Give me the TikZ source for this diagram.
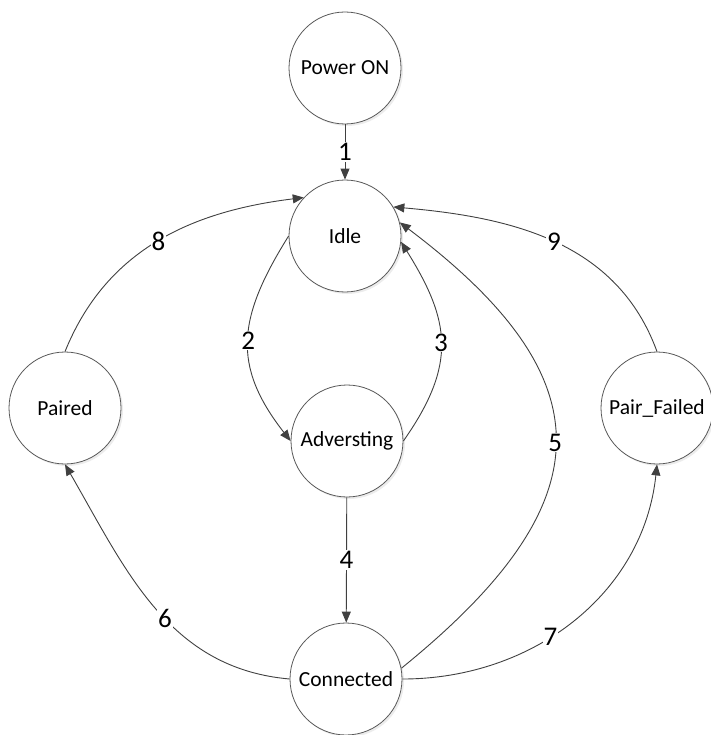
\documentclass[tikz,border=0pt]{standalone}
\usepackage{fontspec}
\setmainfont{Carlito}
\usetikzlibrary{arrows.meta,shadows}
\begin{document}
\begin{tikzpicture}[x=1pt,y=-1pt,
	state/.style={circle,draw=black!65,line width=0.8pt,fill=white,minimum size=112pt,inner sep=0pt,
		font=\fontsize{21.5}{26}\selectfont,drop shadow={opacity=0.15,shadow xshift=2pt,shadow yshift=-2pt}},
	trans/.style={draw=black!75,line width=0.9pt,-{Triangle[length=11pt,width=9pt]}},
	num/.style={fill=white,inner sep=1pt,font=\fontsize{27}{30}\selectfont}]
	\useasboundingbox (0,0) rectangle (710,735);
	\node[state] (power) at (345,68) {Power ON};
	\node[state] (idle) at (345,236) {Idle};
	\node[state] (adv) at (347,441) {Adversting};
	\node[state] (conn) at (346,679) {Connected};
	\node[state] (paired) at (65,408) {Paired};
	\node[state] (failed) at (657,408) {Pair\_Failed};
	\draw[trans] (power) -- (idle) node[midway,num]{1};
	\draw[trans] (idle.180) to[out=238,in=128,looseness=1.2] node[num]{2} (adv.west); %広告開始
	\draw[trans] (adv.east) to[out=55,in=-58,looseness=1.2] node[num]{3} (idle.-6);
	\draw[trans] (adv) -- (conn) node[midway,num]{4};
	\draw[trans] (conn.11) to[out=39,in=-37,looseness=1.5] node[num]{5} (idle.14);
	\draw[trans] (conn.west) to[out=175,in=-60] node[pos=0.45,num]{6} (paired.south); %接続後
	\draw[trans] (conn.east) to[out=0,in=-96] node[pos=0.42,num]{7} (failed.south);
	\draw[trans] (paired.north) to[out=68,in=187] node[num]{8} (idle.137);
	\draw[trans] (failed.north) to[out=110,in=-5] node[num]{9} (idle.31);
\end{tikzpicture}
\end{document}
